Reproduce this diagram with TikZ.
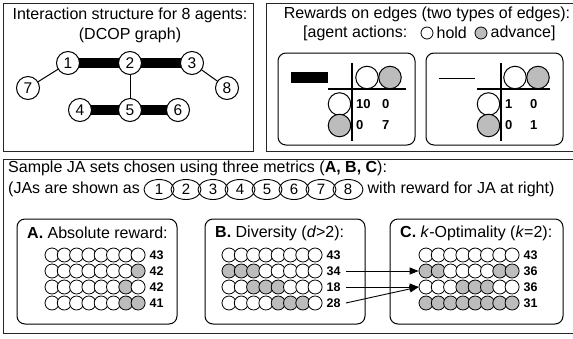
\documentclass[tikz,border=0pt]{standalone}
\usepackage{fontspec}
\setmainfont{Liberation Sans}
\usetikzlibrary{arrows.meta,shapes.geometric,backgrounds}
\definecolor{agray}{RGB}{188,188,188}
\tikzset{
  frame/.style={draw=black!85, line width=1pt},
  rbox/.style={draw=black, line width=1pt, rounded corners=8pt},
  agent/.style={circle, draw, line width=1pt, minimum size=23pt, inner sep=0pt, fill=white, font=\fontsize{15.5}{15.5}\selectfont},
  strongedge/.style={line width=9.5pt},
  weakedge/.style={line width=1pt},
  ttl/.style={font=\fontsize{16}{16}\selectfont, inner sep=0pt},
  btxt/.style={font=\fontsize{16}{16}\selectfont, inner sep=0pt},
  legc/.style={circle, draw, line width=0.8pt, minimum size=12pt, inner sep=0pt},
  rc/.style={circle, draw, line width=1pt, minimum size=22.5pt, inner sep=0pt},
  tline/.style={line width=1.8pt},
  num/.style={font=\fontsize{13}{13}\selectfont\bfseries, inner sep=0pt},
  rnum/.style={font=\fontsize{12.5}{12.5}\selectfont\bfseries, inner sep=0pt},
  jac/.style={ellipse, draw, line width=0.9pt, minimum width=30pt, minimum height=20pt, inner sep=0pt, font=\fontsize{15}{15}\selectfont},
  sc/.style={circle, draw, line width=0.8pt, minimum size=14pt, inner sep=0pt},
  arr/.style={line width=0.9pt, -{Triangle[length=9pt,width=7pt]}}
}
\newcommand\jarow[5]{%
  \foreach \p [count=\k] in {#4} {%
    \ifnum\p=1 \def\jafill{agray}\else\def\jafill{white}\fi
    \node[sc, fill=\jafill] (#1-\k) at ({#2+(\k-1)*12.3},#3) {};
  }%
  \node[rnum, anchor=west] (#1-v) at ([xshift=4pt]#1-8.east) {#5};
}
\begin{document}
\begin{tikzpicture}[x=1pt,y=-1pt]
\useasboundingbox (0,0) rectangle (573,338);
\clip (0,0) rectangle (573,338);

% ---------- top-left panel ----------
\draw[frame] (3,3) rectangle (253,151);
\node[ttl] (t1) at (130,15) {Interaction structure for 8 agents:};
\node[ttl] (t2) at (130,35) {(DCOP graph)};
\node[agent] (n1) at (68,63) {1};
\node[agent] (n2) at (130,63) {2};
\node[agent] (n3) at (192,63) {3};
\node[agent] (n7) at (28,88) {7};
\node[agent] (n8) at (227,88) {8};
\node[agent] (n4) at (80,110) {4};
\node[agent] (n5) at (130,110) {5};
\node[agent] (n6) at (178,110) {6};
\begin{scope}[on background layer]
  \draw[strongedge] (n1.center) -- (n2.center);
  \draw[strongedge] (n2.center) -- (n3.center);
  \draw[strongedge] (n4.center) -- (n5.center);
  \draw[strongedge] (n5.center) -- (n6.center);
  \draw[weakedge] (n1.center) -- (n7.center);
  \draw[weakedge] (n3.center) -- (n8.center);
  \draw[weakedge] (n2.center) -- (n5.center);
\end{scope}

% ---------- top-right panel ----------
\draw[frame] (266,3) rectangle (590,151);
\node[ttl] (r1) at (427,14) {Rewards on edges (two types of edges):};
\node[ttl, anchor=west] (leg) at (303,33) {[agent actions:};
\node[legc, fill=white] (lh) at (427,33) {};
\node[ttl, anchor=west] (lht) at ([xshift=3pt]lh.east) {hold};
\node[legc, fill=agray] (la) at (481,33) {};
\node[ttl, anchor=west] (lat) at ([xshift=3pt]la.east) {advance]};

% strong edge table
\draw[rbox] (278,53) rectangle (415,145);
\coordinate (sa) at (291,77.5);
\coordinate (sb) at (328,77.5);
\draw[line width=11pt] (sa) -- (sb);
\coordinate (v1a) at (352,63); \coordinate (v1b) at (352,141);
\coordinate (h1a) at (328,89); \coordinate (h1b) at (406,89);
\draw[tline] (v1a) -- (v1b);
\draw[tline] (h1a) -- (h1b);
\node[rc, fill=white] (c1h) at (367,77.5) {};
\node[rc, fill=agray] (c1a) at (390,77.5) {};
\node[rc, fill=white] (d1h) at (339.5,104) {};
\node[rc, fill=agray] (d1a) at (339.5,125.5) {};
\node[num, anchor=west] (e11) at (356,104) {10};
\node[num, anchor=west] (e12) at (382,104) {0};
\node[num, anchor=west] (e21) at (356,125) {0};
\node[num, anchor=west] (e22) at (382,125) {7};

% weak edge table
\draw[rbox] (426,53) rectangle (563,145);
\coordinate (wa) at (439,78);
\coordinate (wb) at (475,78);
\draw[weakedge] (wa) -- (wb);
\coordinate (v2a) at (501,63); \coordinate (v2b) at (501,141);
\coordinate (h2a) at (477,89); \coordinate (h2b) at (550,89);
\draw[tline] (v2a) -- (v2b);
\draw[tline] (h2a) -- (h2b);
\node[rc, fill=white] (c2h) at (515,77.5) {};
\node[rc, fill=agray] (c2a) at (538,77.5) {};
\node[rc, fill=white] (d2h) at (488.5,104) {};
\node[rc, fill=agray] (d2a) at (488.5,125.5) {};
\node[num, anchor=west] (f11) at (505,104) {1};
\node[num, anchor=west] (f12) at (530,104) {0};
\node[num, anchor=west] (f21) at (505,125) {0};
\node[num, anchor=west] (f22) at (530,125) {1};

% ---------- bottom panel ----------
\draw[frame] (3,159) rectangle (590,333);
\node[btxt, anchor=west] (s1) at (8,168) {Sample JA sets chosen using three metrics (\textbf{A, B, C}):};
\node[btxt, anchor=west] (s2) at (8,189.5) {(JAs are shown as};
\foreach \i in {1,...,8} {
  \node[jac] (ja\i) at ([xshift={(19+(\i-1)*27)*1pt}]s2.east) {\i};
}
\node[btxt, anchor=west] (s3) at ([xshift=4pt]ja8.east) {with reward for JA at right)};

\draw[rbox] (17,219) rectangle (177,324);
\draw[rbox] (205,219) rectangle (365,324);
\draw[rbox] (390,219) rectangle (563,324);
\node[btxt, anchor=west] (lba) at (27,233) {\textbf{A.} Absolute reward:};
\node[btxt, anchor=west] (lbb) at (215,233) {\textbf{B.} Diversity (\textit{d}>2):};
\node[btxt, anchor=west] (lbc) at (400,233) {\textbf{C.} \textit{k}-Optimality (\textit{k}=2):};

\jarow{a1}{52}{255}{0,0,0,0,0,0,0,0}{43}
\jarow{a2}{52}{271}{0,0,0,0,0,0,0,1}{42}
\jarow{a3}{52}{287}{0,0,0,0,0,0,1,0}{42}
\jarow{a4}{52}{303}{0,0,0,0,0,0,1,1}{41}

\jarow{b1}{229}{255}{0,0,0,0,0,0,0,0}{43}
\jarow{b2}{229}{271}{1,1,1,0,0,0,0,0}{34}
\jarow{b3}{229}{287}{0,0,1,1,1,0,0,0}{18}
\jarow{b4}{229}{303}{0,0,0,0,1,1,1,0}{28}

\jarow{c1}{426}{255}{0,0,0,0,0,0,0,0}{43}
\jarow{c2}{426}{271}{1,1,0,0,0,0,1,1}{36}
\jarow{c3}{426}{287}{0,0,0,1,1,1,0,0}{36}
\jarow{c4}{426}{303}{1,1,1,1,1,1,1,1}{31}

\draw[arr] ([xshift=5pt]b2-v.east) -- (c2-1.west);
\draw[arr] ([xshift=5pt]b3-v.east) -- (c3-1.west);
\draw[arr] ([xshift=5pt]b4-v.east) -- (c3-1.west);
\end{tikzpicture}
\end{document}
